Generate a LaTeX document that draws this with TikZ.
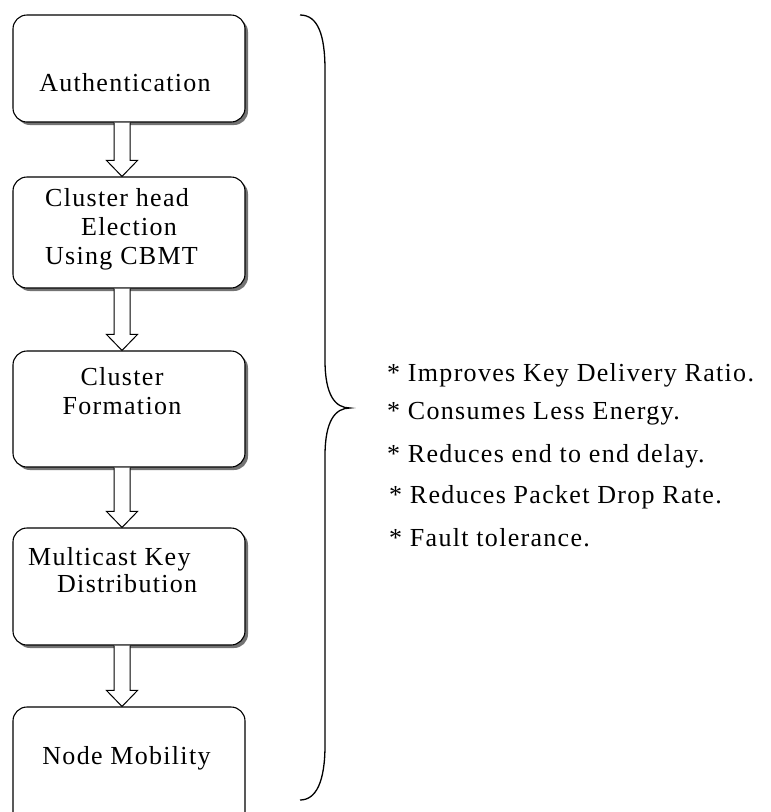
\documentclass[tikz,border=0pt]{standalone}
\usepackage{fontspec}
\setmainfont[LetterSpace=5]{Liberation Serif}
\usetikzlibrary{shadows,calc}
\begin{document}
\begin{tikzpicture}[x=1pt,y=-1pt,
  stepbox/.style={draw=black,line width=1.1pt,rounded corners=14pt,fill=white,minimum width=232pt,inner sep=0pt},
  shad/.style={drop shadow={shadow xshift=3pt,shadow yshift=-3pt,fill=black!55,opacity=1}},
  lbl/.style={font=\fontsize{26}{29}\selectfont,inner sep=0pt},
  bul/.style={font=\fontsize{26}{29}\selectfont,inner sep=0pt,anchor=west},
  blk/.style={draw=black,line width=1pt,fill=white,line join=miter}]
\useasboundingbox (0,0) rectangle (771,812);
\fill[white] (0,0) rectangle (771,812);
% boxes
\node[stepbox,shad,minimum height=107pt] (b1) at (129,68.5) {};
\node[stepbox,shad,minimum height=111pt] (b2) at (129,232.5) {};
\node[stepbox,shad,minimum height=116pt] (b3) at (129,409) {};
\node[stepbox,shad,minimum height=117pt] (b4) at (129,586.5) {};
\node[stepbox,minimum height=120pt] (b5) at (129,767) {};
% texts
\node[lbl] (t1) at (125,83) {Authentication};
\node[lbl,align=left,anchor=west] (t2) at (45,229) {Cluster head\\\hspace*{36pt}Election\\Using CBMT};
\node[lbl,align=center] (t3) at (122,391.5) {Cluster\\Formation};
\node[lbl,align=left,anchor=west,font=\fontsize{26}{27}\selectfont] (t4) at (28,570) {Multicast Key\\\hspace*{29pt}Distribution};
\node[lbl] (t5) at (126.5,758) {Node Mobility};
% block arrows
\foreach \a/\b in {b1/b2,b2/b3,b3/b4,b4/b5}{
  \draw[blk] ($(\a.south)+(-15,0)$) -- ($(\b.north)+(-15,-16)$) -- ($(\b.north)+(-22.5,-16)$)
    -- ($(\b.north)+(-7,0)$) -- ($(\b.north)+(8.5,-16)$) -- ($(\b.north)+(1,-16)$) -- ($(\a.south)+(1,0)$);
}
% brace
\coordinate (bt) at (300,15);
\coordinate (tip) at (350,408);
\coordinate (bb) at (300,800);
\draw[line width=1.3pt] (bt) .. controls (318,15) and (325,35) .. (325,70)
  -- (325,360) .. controls (325,395) and (335,408) .. (tip)
  .. controls (335,408) and (325,421) .. (325,456)
  -- (325,745) .. controls (325,782) and (316,800) .. (bb);
% benefits
\node[bul] (l1) at (387,375) {* Improves Key Delivery Ratio.};
\node[bul] (l2) at (387,414) {* Consumes Less Energy.};
\node[bul] (l3) at (387,456) {* Reduces end to end delay.};
\node[bul] (l4) at (389,497) {* Reduces Packet Drop Rate.};
\node[bul] (l5) at (389,538) {* Fault tolerance.};
\end{tikzpicture}
\end{document}
